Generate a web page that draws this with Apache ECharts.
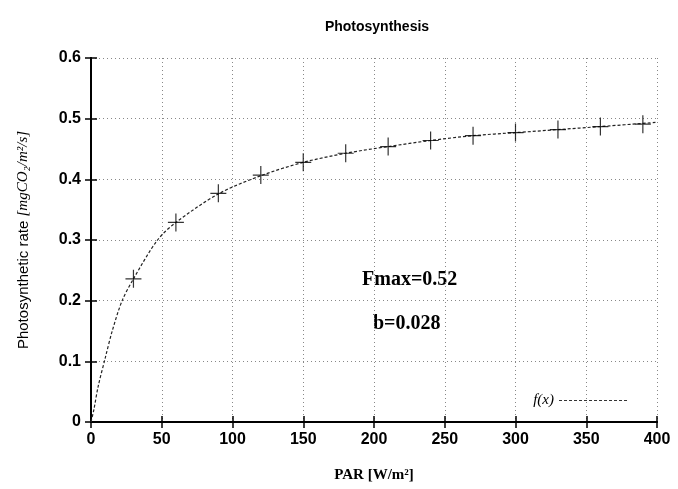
<!DOCTYPE html>
<html>
<head>
<meta charset="utf-8">
<script src="https://cdn.jsdelivr.net/npm/echarts@6/dist/echarts.min.js"></script>
<style>
  html, body { margin: 0; padding: 0; background: #fff; }
  #chart { width: 678px; height: 489px; }
</style>
</head>
<body>
<div id="chart"></div>
<script>
// measured points (PAR, rate)
var pointX = [30, 60, 90, 120, 150, 180, 210, 240, 270, 300, 330, 360, 390];
var pointY = [0.236, 0.329, 0.377, 0.407, 0.428, 0.443, 0.454, 0.464, 0.472, 0.477, 0.482, 0.487, 0.491];

// fitted curve f(x)
var curveX = [0, 2, 5, 10, 15, 22, 30, 47, 60, 90, 120, 150, 180, 210, 240, 270, 300, 330, 360, 400];
var curveY = [0, 0.02, 0.058, 0.105, 0.15, 0.2, 0.236, 0.3, 0.329, 0.376, 0.406, 0.428, 0.443, 0.454, 0.464, 0.472, 0.477, 0.482, 0.487, 0.494];

var xTicks = [0, 50, 100, 150, 200, 250, 300, 350, 400];
var yTicks = [0, 0.1, 0.2, 0.3, 0.4, 0.5, 0.6];

var chart = echarts.init(document.getElementById('chart'));

var pts = pointX.map(function (x, i) { return [x, pointY[i]]; });
var curve = curveX.map(function (x, i) { return [x, curveY[i]]; });

var plus = 'path://M0,8.4h16v1.2h-16z M7.4,0h1.2v18h-1.2z';
// dashed legend sample
var dashIcon = 'path://M0,0h3v1h-3z M5,0h3v1h-3z M10,0h3v1h-3z M15,0h3v1h-3z M20,0h3v1h-3z M25,0h3v1h-3z M30,0h3v1h-3z M35,0h3v1h-3z'
  + ' M40,0h3v1h-3z M45,0h3v1h-3z M50,0h3v1h-3z M55,0h3v1h-3z M60,0h3v1h-3z M65,0h3v1h-3z';

var tickLbl = { fontFamily: 'Liberation Sans', fontWeight: 'bold', fontSize: 16, color: '#000' };

var option = {
  animation: false,
  backgroundColor: '#fff',
  title: {
    text: 'Photosynthesis',
    left: 372, top: 15, textAlign: 'center',
    textStyle: { fontFamily: 'Liberation Sans', fontWeight: 'bold', fontSize: 14, color: '#000' }
  },
  grid: { left: 91, right: 21, top: 58, bottom: 67 },
  legend: {
    right: 46, bottom: 76,
    align: 'right',
    itemWidth: 68, itemHeight: 1.2, itemGap: 10,
    data: [{ name: 'f(x)', icon: dashIcon }],
    itemStyle: { color: '#333' },
    textStyle: { fontFamily: 'Liberation Serif', fontStyle: 'italic', fontSize: 15, color: '#000' }
  },
  xAxis: [{
    type: 'value', min: 0, max: 400, interval: 50,
    name: 'PAR [W/m²]', nameLocation: 'middle', nameGap: 46,
    nameTextStyle: { fontFamily: 'Liberation Serif', fontWeight: 'bold', fontSize: 15, color: '#000' },
    axisLine: { show: true, lineStyle: { color: '#000', width: 2 } },
    axisTick: { show: true, inside: true, length: 6, lineStyle: { color: '#000', width: 1.5 } },
    axisLabel: Object.assign({ margin: 10 }, tickLbl),
    splitLine: { show: true, lineStyle: { color: '#888', type: [1, 3], width: 1 } }
  }, {
    type: 'value', min: 0, max: 400, interval: 50, position: 'top',
    axisLine: { show: true, lineStyle: { color: '#000', width: 2 } },
    axisTick: { show: true, inside: true, length: 6, lineStyle: { color: '#000', width: 1.5 } },
    axisLabel: { show: false }, splitLine: { show: false }
  }],
  yAxis: [{
    type: 'value', min: 0, max: 0.6, interval: 0.1,
    name: '{a|Photosynthetic rate }{b|[mgCO₂/m²/s]}',
    nameLocation: 'middle', nameRotate: 90, nameGap: 60,
    nameTextStyle: {
      rich: {
        a: { fontFamily: 'Liberation Sans', fontSize: 15, color: '#000' },
        b: { fontFamily: 'Liberation Serif', fontStyle: 'italic', fontSize: 15, color: '#000' }
      }
    },
    axisLine: { show: true, lineStyle: { color: '#000', width: 2 } },
    axisTick: { show: true, inside: true, length: 6, lineStyle: { color: '#000', width: 1.5 } },
    axisLabel: Object.assign({ margin: 10, formatter: function (v) { return v === 0 ? '0' : v.toFixed(1); } }, tickLbl),
    splitLine: { show: true, lineStyle: { color: '#888', type: [1, 3], width: 1 } }
  }, {
    type: 'value', min: 0, max: 0.6, interval: 0.1, position: 'right',
    axisLine: { show: true, lineStyle: { color: '#000', width: 2 } },
    axisTick: { show: true, inside: true, length: 6, lineStyle: { color: '#000', width: 1.5 } },
    axisLabel: { show: false }, splitLine: { show: false }
  }],
  graphic: [
    { type: 'text', left: 362, top: 270,
      style: { text: 'Fmax=0.52', fontFamily: 'Liberation Serif', fontWeight: 'bold', fontSize: 20, fill: '#000' } },
    { type: 'text', left: 373, top: 314,
      style: { text: 'b=0.028', fontFamily: 'Liberation Serif', fontWeight: 'bold', fontSize: 20, fill: '#000' } }
  ],
  series: [{
    name: 'f(x)',
    type: 'line',
    data: curve,
    smooth: 0.3,
    showSymbol: false,
    symbol: 'none',
    lineStyle: { color: '#222', width: 1.2, type: [3, 2] },
    itemStyle: { color: '#222' },
    z: 3
  }, {
    name: 'data',
    type: 'scatter',
    data: pts,
    symbol: plus,
    symbolSize: [16, 18],
    itemStyle: { color: '#000' },
    z: 4
  }]
};

chart.setOption(option);
</script>
</body>
</html>
